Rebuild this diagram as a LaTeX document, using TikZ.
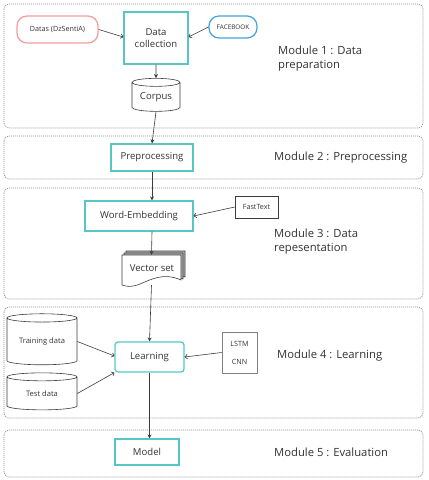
\documentclass[tikz,border=0pt]{standalone}
\usepackage{fontspec}
\setmainfont{Open Sans}
\usetikzlibrary{shapes.geometric,arrows.meta,calc}
\definecolor{teal1}{HTML}{55C7C7}
\definecolor{pink1}{HTML}{F29C9C}
\definecolor{blue1}{HTML}{3FA4DD}
\definecolor{line1}{HTML}{3C3C3C}
\definecolor{mod1}{HTML}{8A8A8A}
\definecolor{txt1}{HTML}{333333}
\tikzset{
  modbox/.style={draw=mod1, line width=0.7bp, dash pattern=on 1bp off 1bp, rounded corners=5bp},
  modtext/.style={anchor=west, align=left, font=\fontsize{11.3}{14}\selectfont, text=txt1, inner sep=0pt},
  tealbox/.style={draw=teal1, line width=1.25bp, rectangle, font=\fontsize{9.6}{12.5}\selectfont, text=txt1, align=center, inner sep=0pt},
  smallbox/.style={draw=line1, line width=0.6bp, rectangle, font=\fontsize{7.2}{9}\selectfont, text=txt1, align=center, inner sep=0pt},
  pill/.style={rectangle, rounded corners=10bp, line width=1.2bp, font=\fontsize{7.2}{9}\selectfont, text=txt1, inner sep=0pt},
  cyl/.style={draw=line1, line width=0.6bp, cylinder, shape border rotate=90, text=txt1, inner sep=0pt},
  varr/.style={draw=line1, line width=0.6bp, -{Stealth[length=4bp,width=4bp]}},
  sarr/.style={draw=line1, line width=0.6bp, -{To[length=3bp,width=5bp]}},
}
\begin{document}
\begin{tikzpicture}[x=1bp,y=-1bp]
\useasboundingbox (0,0) rectangle (428,480);
% module boxes
\draw[modbox] (4,4) rectangle (423,128);
\draw[modbox] (4,136) rectangle (423,179);
\draw[modbox] (4,188) rectangle (423,299);
\draw[modbox] (4,307) rectangle (423,418);
\draw[modbox] (4,430) rectangle (423,477);
% module texts
\node[modtext] (m1) at (278,58.5) {Module 1 : Data\\preparation};
\node[modtext] (m2) at (274,157.5) {Module 2 : Preprocessing};
\node[modtext] (m3) at (274,242) {Module 3 : Data\\repesentation};
\node[modtext] (m4) at (277,356) {Module 4 : Learning};
\node[modtext] (m5) at (274,452) {Module 5 : Evaluation};
% module 1
\node[pill, draw=pink1, minimum width=81bp, minimum height=27bp] (datas) at (57.5,29.5) {Datas (DzSentiA)};
\node[tealbox, minimum width=64bp, minimum height=52bp] (coll) at (156,38) {Data\\collection};
\node[pill, draw=blue1, minimum width=48bp, minimum height=22bp, font=\fontsize{6.4}{8}\selectfont] (fb) at (233,27) {FACEBOOK};
\node[cyl, aspect=0.25, minimum width=48bp, minimum height=33bp, font=\fontsize{9.6}{12}\selectfont] (corpus) at (156,97) {Corpus};
% module 2
\node[tealbox, minimum width=82bp, minimum height=27bp] (pre) at (152,157.5) {Preprocessing};
% module 3
\node[tealbox, minimum width=108bp, minimum height=30bp] (we) at (139,216) {Word-Embedding};
\node[smallbox, minimum width=43bp, minimum height=22bp] (ft) at (256.5,207) {FastText};
% vector set (multi-document)
\node[minimum width=59bp, minimum height=30bp, inner sep=0pt] (vec) at (151.5,270) {};
\begin{scope}[line width=0.6bp, draw=line1]
\foreach \dx/\dy in {4/-4,2/-2}{
\filldraw[fill=gray!60, draw=line1, shift={(\dx,\dy)}] (122,255) -- (181,255) -- (181,281) .. controls (165,276) and (150,276) .. (140,283) -- (122,283) -- cycle;
}
\filldraw[fill=white, draw=line1] (122,255) -- (181,255) -- (181,280) .. controls (163,272) and (150,280) .. (140,284) .. controls (133,287) and (127,287) .. (122,285) -- cycle;
\end{scope}
\node[font=\fontsize{9.6}{12}\selectfont, text=txt1] at (152,268) {Vector set};
% module 4
\node[cyl, aspect=0.18, minimum width=70bp, minimum height=51bp, font=\fontsize{7.6}{9}\selectfont] (train) at (42,341.5) {Training data};
\node[cyl, aspect=0.25, minimum width=70bp, minimum height=37bp, font=\fontsize{7.6}{9}\selectfont] (test) at (42,393.5) {Test data};
\node[tealbox, rounded corners=3bp, minimum width=69bp, minimum height=30bp] (learn) at (149.5,357) {Learning};
\node[smallbox, draw=gray, line width=0.8bp, minimum width=35bp, minimum height=41bp] (lstm) at (239.5,352.5) {LSTM\\[9pt]CNN};
% module 5
\node[tealbox, minimum width=64bp, minimum height=26bp] (model) at (147,452) {Model};
% connectors
\draw[sarr] (datas.east) -- (coll.west |- 0,37);
\draw[sarr] (fb.west) -- (coll.east |- 0,37);
\draw[varr] (coll.south) -- (corpus.north);
\draw[varr] (corpus.south) -- (pre.north);
\draw[varr] (pre.south) -- (we.north -| pre.south);
\draw[sarr] (ft.west) -- (we.east);
\draw[varr] (we.south -| pre.south) -- (vec.north);
\draw[varr] (vec.south) -- (learn.north);
\draw[sarr] (train.east) -- ($(learn.west)+(0,-1)$);
\draw[sarr] (test.east) -- (learn.south west);
\draw[sarr] (lstm.west) -- (learn.east);
\draw[varr] (learn.south) -- (model.north -| learn.south);
\end{tikzpicture}
\end{document}
